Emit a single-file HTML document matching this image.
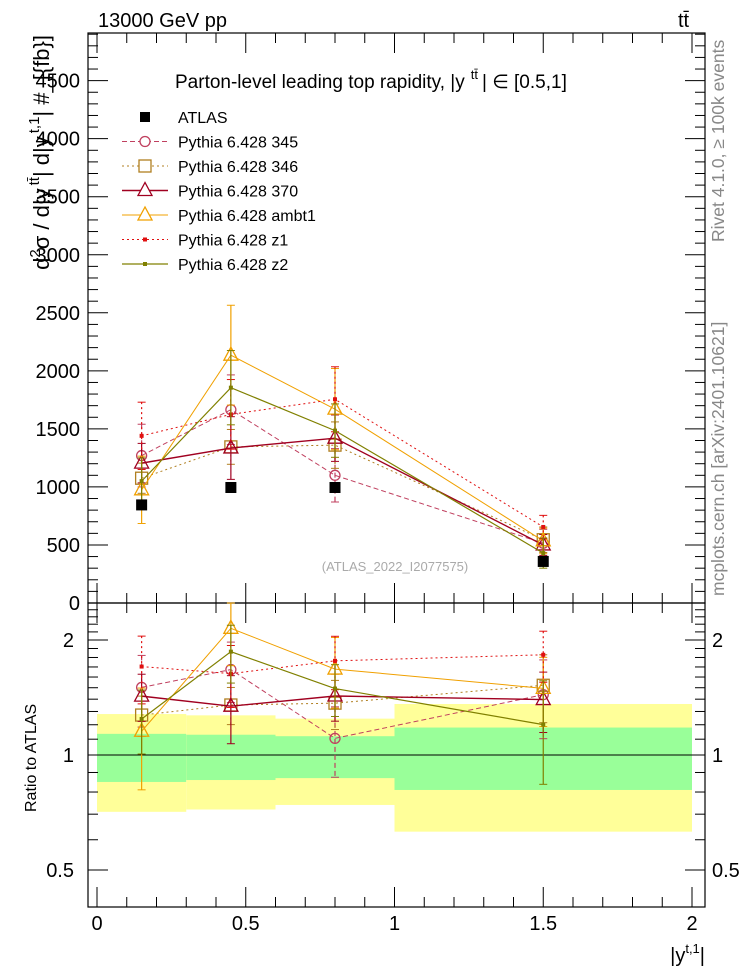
<!DOCTYPE html>
<html><head><meta charset="utf-8">
<style>
html,body{margin:0;padding:0;background:#fff;}
svg{display:block;font-family:"Liberation Sans",sans-serif;}
</style></head>
<body>
<svg id="chart" width="746" height="972" viewBox="0 0 746 972" xmlns="http://www.w3.org/2000/svg">
<rect width="746" height="972" fill="#fff"/>
<g id="bands"></g>
<g id="axes"></g>
<g id="series"></g>
<text x="98" y="27" font-size="20">13000 GeV pp</text>
<text x="678" y="27" font-size="20">tt̄</text>
<text x="175" y="88" font-size="19">Parton-level leading top rapidity, |y<tspan dy="-9" font-size="13" dx="6">tt̄</tspan><tspan dy="9" dx="4">| ∈ [0.5,1]</tspan></text>
<text x="395" y="571" font-size="13" fill="#aaa" text-anchor="middle">(ATLAS_2022_I2077575)</text>
<text transform="translate(49,35) rotate(-90)" font-size="22" text-anchor="end">d<tspan dy="-9" font-size="15">2</tspan><tspan dy="9">σ / d|y</tspan><tspan dy="-10" font-size="15" dx="3">tt̄</tspan><tspan dy="10">| d|y</tspan><tspan dy="-10" font-size="15" dx="3">t,1</tspan><tspan dy="10">| #_[{fb}]</tspan></text>
<text transform="translate(36,812) rotate(-90)" font-size="16">Ratio to ATLAS</text>
<text x="705" y="962" font-size="20" text-anchor="end">|y<tspan dy="-9" font-size="13">t,1</tspan><tspan dy="9">|</tspan></text>
<text transform="translate(724,242) rotate(-90)" font-size="17.5" fill="#888">Rivet 4.1.0, ≥ 100k events</text>
<text transform="translate(724,596) rotate(-90)" font-size="17.5" fill="#888">mcplots.cern.ch [arXiv:2401.10621]</text>
<g id="legend"></g>
</svg>
<script>
const xs = [0.15, 0.45, 0.8, 1.5];
const binEdges = [0, 0.3, 0.6, 1.0, 2.0];
const atlas = [845, 995, 995, 358];
const atlasErr = [25, 25, 25, 15];
const statHi = [1.136, 1.13, 1.12, 1.18];
const statLo = [0.85, 0.86, 0.87, 0.81];
const totHi = [1.28, 1.27, 1.245, 1.36];
const totLo = [0.71, 0.72, 0.74, 0.63];
const v345 = [1270, 1665, 1100, 515];
const e345 = [270, 300, 230, 120];
const v346 = [1075, 1345, 1360, 545];
const e346 = [130, 150, 200, 110];
const v370 = [1205, 1335, 1420, 500];
const e370 = [170, 270, 200, 90];
const vAmbt1 = [975, 2135, 1670, 535];
const eAmbt1 = [290, 430, 350, 110];
const vZ1 = [1440, 1625, 1755, 655];
const eZ1 = [290, 300, 280, 100];
const vZ2 = [1050, 1855, 1485, 430];
const eZ2 = [200, 320, 230, 130];
const yTicks = [0, 500, 1000, 1500, 2000, 2500, 3000, 3500, 4000, 4500];
const xTicks = [0, 0.5, 1, 1.5, 2];
const rTicks = [0.5, 1, 2];

const NS = "http://www.w3.org/2000/svg";
const L = 88, R = 705, T = 33, MB = 603, RB = 907;
const X = v => 97 + v * 297.5;
const Y = v => 603 - v * 0.11608;
const RY = r => 755 - Math.log2(r) * 115;
function mk(tag, attrs, parent) {
  const e = document.createElementNS(NS, tag);
  for (const k in attrs) e.setAttribute(k, attrs[k]);
  parent.appendChild(e);
  return e;
}
const axes = document.getElementById('axes');
const bands = document.getElementById('bands');
const series = document.getElementById('series');
const legend = document.getElementById('legend');

for (let i = 0; i < 4; i++) {
  const x1 = Math.max(X(binEdges[i]), L + 1), x2 = X(binEdges[i + 1]);
  const y = mk('rect', {x: x1, y: RY(totHi[i]), width: x2 - x1, height: RY(totLo[i]) - RY(totHi[i]), fill: '#ffff99'}, bands);
  
  
  const g = mk('rect', {x: x1, y: RY(statHi[i]), width: x2 - x1, height: RY(statLo[i]) - RY(statHi[i]), fill: '#99ff99'}, bands);
  
  
}
mk('line', {x1: L, x2: R, y1: RY(1), y2: RY(1), stroke: '#000', 'stroke-width': 1}, axes);

mk('rect', {x: L, y: T, width: R - L, height: MB - T, fill: 'none', stroke: '#000', 'stroke-width': 1.2}, axes);
mk('rect', {x: L, y: MB, width: R - L, height: RB - MB, fill: 'none', stroke: '#000', 'stroke-width': 1.2}, axes);

for (let v = 0; v <= 4900; v += 100) {
  const y = Y(v); if (y < T) break;
  const maj = v % 500 === 0;
  mk('line', {x1: L, x2: L + (maj ? 20 : 10), y1: y, y2: y, stroke: '#000'}, axes);
  mk('line', {x1: R, x2: R - (maj ? 20 : 10), y1: y, y2: y, stroke: '#000'}, axes);
}
yTicks.forEach(v => {
  const t = mk('text', {x: 80, y: Y(v) + 7, 'font-size': 20, 'text-anchor': 'end'}, axes);
  t.textContent = String(v);
  
  
});
for (let k = 0; k <= 20; k++) {
  const v = k / 10, x = X(v);
  const maj = k % 5 === 0;
  const len = maj ? 20 : 10;
  mk('line', {x1: x, x2: x, y1: T, y2: T + len, stroke: '#000'}, axes);
  mk('line', {x1: x, x2: x, y1: MB, y2: MB - len, stroke: '#000'}, axes);
  mk('line', {x1: x, x2: x, y1: MB, y2: MB + len, stroke: '#000'}, axes);
  mk('line', {x1: x, x2: x, y1: RB, y2: RB - len, stroke: '#000'}, axes);
}
xTicks.forEach(v => {
  const t = mk('text', {x: X(v), y: 930, 'font-size': 20, 'text-anchor': 'middle'}, axes);
  t.textContent = String(v);
  
  
});
[0.4,0.5,0.6,0.7,0.8,0.9,1,1.1,1.2,1.3,1.4,1.5,1.6,1.7,1.8,1.9,2,2.1,2.2,2.3,2.4].forEach(r => {
  const y = RY(r); if (y < MB || y > RB) return;
  const maj = rTicks.includes(r);
  const len = maj ? 20 : 10;
  mk('line', {x1: L, x2: L + len, y1: y, y2: y, stroke: '#000'}, axes);
  mk('line', {x1: R, x2: R - len, y1: y, y2: y, stroke: '#000'}, axes);
});
rTicks.forEach(r => {
  const t = mk('text', {x: 74, y: RY(r) + 7, 'font-size': 20, 'text-anchor': 'end'}, axes);
  t.textContent = String(r);
  
  
  const t2 = mk('text', {x: 712, y: RY(r) + 7, 'font-size': 20}, axes);
  t2.textContent = String(r);
  
  
});

const defs = [
  {name: 'Pythia 6.428 345', v: v345, e: e345, c: '#c0405f', dash: '5,3', mark: 'circle', w: 1},
  {name: 'Pythia 6.428 346', v: v346, e: e346, c: '#b07f20', dash: '2,3', mark: 'square', w: 1},
  {name: 'Pythia 6.428 370', v: v370, e: e370, c: '#a00020', dash: '', mark: 'tri', w: 1.4},
  {name: 'Pythia 6.428 ambt1', v: vAmbt1, e: eAmbt1, c: '#f0a000', dash: '', mark: 'tri', w: 1},
  {name: 'Pythia 6.428 z1', v: vZ1, e: eZ1, c: '#e01010', dash: '2,3', mark: 'dot', w: 1},
  {name: 'Pythia 6.428 z2', v: vZ2, e: eZ2, c: '#808000', dash: '', mark: 'dot', w: 1.2}
];
function marker(kind, x, y, c, g) {
  if (kind === 'circle') return mk('circle', {cx: x, cy: y, r: 5, fill: 'none', stroke: c, 'stroke-width': 1.3}, g);
  if (kind === 'square') return mk('rect', {x: x - 6, y: y - 6, width: 12, height: 12, fill: 'none', stroke: c, 'stroke-width': 1.3}, g);
  if (kind === 'tri') return mk('polygon', {points: `${x},${y-8} ${x-7},${y+5} ${x+7},${y+5}`, fill: 'none', stroke: c, 'stroke-width': 1.3}, g);
  return mk('rect', {x: x - 2, y: y - 2, width: 4, height: 4, fill: c}, g);
}
function clampR(y) { return Math.max(MB, Math.min(RB, y)); }
defs.forEach((d, si) => {
  const g = mk('g', {}, series);
  
  
  const pts = xs.map((x, i) => `${X(x)},${Y(d.v[i])}`).join(' ');
  const la = {points: pts, fill: 'none', stroke: d.c, 'stroke-width': d.w};
  if (d.dash) la['stroke-dasharray'] = d.dash;
  mk('polyline', la, g);
  const rpts = xs.map((x, i) => `${X(x)},${RY(d.v[i] / atlas[i])}`).join(' ');
  const lb = {points: rpts, fill: 'none', stroke: d.c, 'stroke-width': d.w};
  if (d.dash) lb['stroke-dasharray'] = d.dash;
  mk('polyline', lb, g);
  xs.forEach((x, i) => {
    const px = X(x);
    const ea = {x1: px, x2: px, y1: Y(d.v[i] + d.e[i]), y2: Y(d.v[i] - d.e[i]), stroke: d.c, 'stroke-width': 1.2};
    if (d.dash) ea['stroke-dasharray'] = d.dash;
    mk('line', ea, g);
    mk('line', {x1: px - 4, x2: px + 4, y1: Y(d.v[i] + d.e[i]), y2: Y(d.v[i] + d.e[i]), stroke: d.c}, g);
    mk('line', {x1: px - 4, x2: px + 4, y1: Y(d.v[i] - d.e[i]), y2: Y(d.v[i] - d.e[i]), stroke: d.c}, g);
    const m = marker(d.mark, px, Y(d.v[i]), d.c, g);
    
    
    const r = d.v[i] / atlas[i];
    const rh = clampR(RY((d.v[i] + d.e[i]) / atlas[i])), rl = clampR(RY((d.v[i] - d.e[i]) / atlas[i]));
    const eb = {x1: px, x2: px, y1: rh, y2: rl, stroke: d.c, 'stroke-width': 1.2};
    if (d.dash) eb['stroke-dasharray'] = d.dash;
    mk('line', eb, g);
    mk('line', {x1: px - 4, x2: px + 4, y1: rh, y2: rh, stroke: d.c}, g);
    mk('line', {x1: px - 4, x2: px + 4, y1: rl, y2: rl, stroke: d.c}, g);
    const m2 = marker(d.mark, px, RY(r), d.c, g);
    
    
  });
});
const ga = mk('g', {}, series);


xs.forEach((x, i) => {
  const px = X(x);
  mk('line', {x1: px, x2: px, y1: Y(atlas[i] + atlasErr[i]), y2: Y(atlas[i] - atlasErr[i]), stroke: '#000', 'stroke-width': 1.2}, ga);
  const s = mk('rect', {x: px - 5.5, y: Y(atlas[i]) - 5.5, width: 11, height: 11, fill: '#000'}, ga);
  
  
});

const ly0 = 117, ldy = 24.5;
const le0 = mk('g', {}, legend);


mk('rect', {x: 140, y: ly0 - 5, width: 10, height: 10, fill: '#000'}, le0);
const t0 = mk('text', {x: 178, y: ly0 + 6, 'font-size': 16}, le0);
t0.textContent = 'ATLAS';
defs.forEach((d, i) => {
  const y = ly0 + ldy * (i + 1);
  const g = mk('g', {}, legend);
  
  
  const la = {x1: 122, x2: 168, y1: y, y2: y, stroke: d.c, 'stroke-width': d.w};
  if (d.dash) la['stroke-dasharray'] = d.dash;
  mk('line', la, g);
  const m = marker(d.mark, 145, y, d.c, g);
  if (d.mark === 'circle' || d.mark === 'square' || d.mark === 'tri') m.setAttribute('fill', '#fff');
  const t = mk('text', {x: 178, y: y + 6, 'font-size': 16}, g);
  t.textContent = d.name;
});
</script>
</body></html>
